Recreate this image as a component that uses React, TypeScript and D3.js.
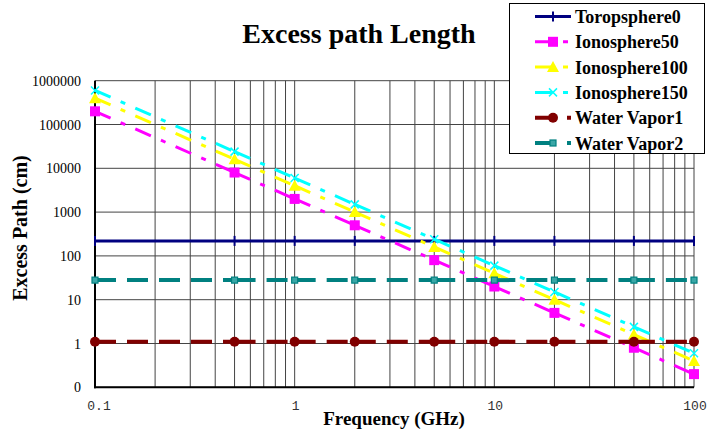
import React from 'react';
import * as d3 from 'd3';

// frequencies (GHz) where the sheet has values
const freq = [0.1, 0.5, 1, 2, 5, 10, 20, 50, 100];

// excess path (cm)
const troposphere0 = [220, 220, 220, 220, 220, 220, 220, 220, 220];
const ionosphere50 = [200000, 8000, 2000, 500, 80, 20, 5, 0.8, 0.2];
const ionosphere100 = [400000, 16000, 4000, 1000, 160, 40, 10, 1.6, 0.4];
const ionosphere150 = [600000, 24000, 6000, 1500, 240, 60, 15, 2.4, 0.6];
const waterVapor1 = [1.1, 1.1, 1.1, 1.1, 1.1, 1.1, 1.1, 1.1, 1.1];
const waterVapor2 = [28, 28, 28, 28, 28, 28, 28, 28, 28];

const seriesNames = ['Toropsphere0', 'Ionosphere50', 'Ionosphere100', 'Ionosphere150', 'Water Vapor1', 'Water Vapor2'];
const yTicks = [0.1, 1, 10, 100, 1000, 10000, 100000, 1000000];
const xTicks = [0.1, 1, 10, 100];

const W = 708;
const H = 439;
const serif = '"Liberation Serif", "Times New Roman", serif';

const x = d3.scaleLog().domain([0.1, 100]).range([95, 694]);
const y = d3.scaleLog().domain([0.1, 1000000]).range([387.3, 80.7]);

const series = [
  { name: seriesNames[0], values: troposphere0, color: '#000080', width: 3, dash: 'none', marker: 'plus' },
  { name: seriesNames[1], values: ionosphere50, color: '#ff00ff', width: 3, dash: '17,11,5,11', marker: 'square' },
  { name: seriesNames[2], values: ionosphere100, color: '#ffff00', width: 3, dash: '17,11,5,11', marker: 'triangle' },
  { name: seriesNames[3], values: ionosphere150, color: '#00ffff', width: 3, dash: '17,11,5,11', marker: 'cross' },
  { name: seriesNames[4], values: waterVapor1, color: '#800000', width: 4, dash: '21,11', marker: 'circle' },
  { name: seriesNames[5], values: waterVapor2, color: '#008080', width: 4, dash: '21,11', marker: 'smallsquare' },
];

function Marker({ type, cx, cy, color }: { type: string; cx: number; cy: number; color: string }) {
  if (type === 'plus') {
    return <line x1={cx} x2={cx} y1={cy - 5} y2={cy + 5} stroke={color} strokeWidth={2} />;
  }
  if (type === 'square') {
    return <rect x={cx - 5} y={cy - 5} width={10} height={10} fill={color} />;
  }
  if (type === 'triangle') {
    return <path d={`M${cx},${cy - 6}L${cx + 6},${cy + 5}L${cx - 6},${cy + 5}Z`} fill={color} />;
  }
  if (type === 'cross') {
    return (
      <g stroke={color} strokeWidth={1.5}>
        <line x1={cx - 4} x2={cx + 4} y1={cy - 4} y2={cy + 4} />
        <line x1={cx - 4} x2={cx + 4} y1={cy + 4} y2={cy - 4} />
      </g>
    );
  }
  if (type === 'circle') {
    return <circle cx={cx} cy={cy} r={5} fill={color} />;
  }
  return <rect x={cx - 3} y={cy - 3} width={6} height={6} fill="#3aa6a6" stroke={color} strokeWidth={1.2} />;
}

export default function App() {
  const xGrid = x.ticks();
  const legendX = 535;

  return (
    <svg width={W} height={H} style={{ position: 'absolute', left: 0, top: 0, background: '#fff' }}>
      <rect width={W} height={H} fill="#fff" />

      {/* grid */}
      <g stroke="#444" strokeWidth={1}>
        {xGrid.map((v, i) => (
          <line key={'vx' + i} x1={x(v)} x2={x(v)} y1={y(1000000)} y2={y(0.1)} />
        ))}
        {yTicks.map((v, i) => (
          <line key={'hy' + i} x1={x(0.1)} x2={x(100)} y1={y(v)} y2={y(v)} />
        ))}
      </g>

      {/* axis lines */}
      <line x1={x(0.1)} x2={x(0.1)} y1={y(1000000)} y2={y(0.1) + 1} stroke="#000" strokeWidth={2} />
      <line x1={x(0.1) - 1} x2={x(100)} y1={y(0.1)} y2={y(0.1)} stroke="#000" strokeWidth={2} />

      {/* y tick labels */}
      {yTicks.map((v, i) => (
        <text key={'yl' + i} x={81} y={y(v) + 5} textAnchor="end" fontFamily={serif} fontSize={14} fill="#000">
          {v < 1 ? '0' : String(v)}
        </text>
      ))}

      {/* x tick labels */}
      {xTicks.map((v, i) => (
        <text key={'xl' + i} x={x(v) + (v < 1 ? 4 : 1)} y={410} textAnchor="middle" fontFamily='"Liberation Mono", "DejaVu Sans Mono", monospace' fontSize={13} fill="#333">
          {String(v)}
        </text>
      ))}

      {/* series, segment by segment like the sheet draws them */}
      {series.map((s, si) => (
        <g key={'s' + si}>
          {s.values.slice(0, -1).map((v, i) => (
            <line
              key={i}
              x1={x(freq[i])}
              y1={y(v)}
              x2={x(freq[i + 1])}
              y2={y(s.values[i + 1])}
              stroke={s.color}
              strokeWidth={s.width}
              strokeDasharray={s.dash}
            />
          ))}
          {s.values.map((v, i) => (
            <Marker key={'m' + i} type={s.marker} cx={x(freq[i])} cy={y(v)} color={s.color} />
          ))}
        </g>
      ))}

      {/* titles */}
      <text x={359} y={43} textAnchor="middle" fontFamily={serif} fontWeight="bold" fontSize={28}>
        Excess path Length
      </text>
      <text x={394} y={425} textAnchor="middle" fontFamily={serif} fontWeight="bold" fontSize={19}>
        Frequency (GHz)
      </text>
      <text transform="translate(27,228) rotate(-90)" textAnchor="middle" fontFamily={serif} fontWeight="bold" fontSize={20}>
        Excess Path (cm)
      </text>

      {/* legend */}
      <rect x={509.5} y={3.5} width={195} height={150} fill="#fff" stroke="#000" strokeWidth={1} />
      {series.map((s, i) => {
        const cy = 16.5 + i * 25.3;
        return (
          <g key={'lg' + i}>
            <line x1={legendX} x2={legendX + 36} y1={cy} y2={cy} stroke={s.color} strokeWidth={s.width} strokeDasharray={s.dash} />
            <Marker type={s.marker} cx={legendX + 18} cy={cy} color={s.color} />
            <text x={575} y={cy + 6.5} fontFamily={serif} fontWeight="bold" fontSize={18} fill="#000">
              {s.name}
            </text>
          </g>
        );
      })}
    </svg>
  );
}
